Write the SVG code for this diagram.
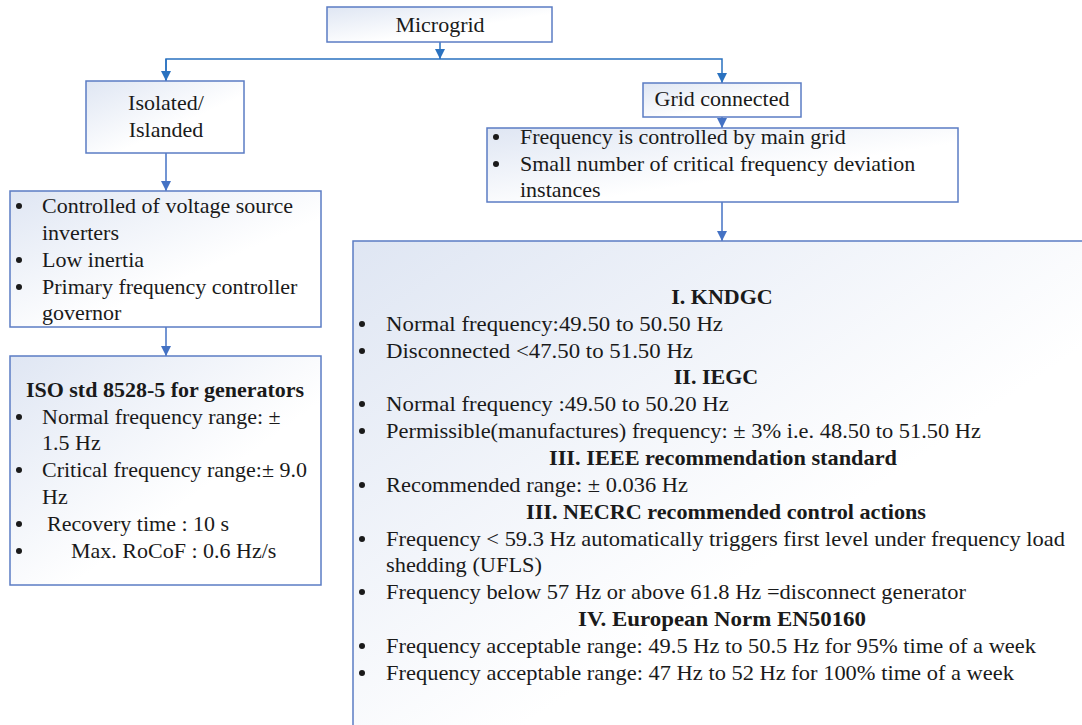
<svg xmlns="http://www.w3.org/2000/svg" width="1082" height="725" viewBox="0 0 1082 725">
<style>
.box{stroke:#5b7cc4;stroke-width:1.5;fill:url(#g)}
text{font-family:'Liberation Serif','DejaVu Serif',serif;font-size:22px;fill:#1a1a1a}
.c{text-anchor:middle}
.b{font-weight:bold}
.dot{fill:#1a1a1a}
.ln{stroke:#4472c4;stroke-width:1.5;fill:none}
.ln2{stroke:#2a72c0;stroke-width:1.5;fill:none}
</style>
<defs>
<linearGradient id="g" x1="0" y1="0" x2="1" y2="1">
<stop offset="0" stop-color="#dfe6f3"/>
<stop offset="0.6" stop-color="#ffffff"/>
<stop offset="1" stop-color="#ffffff"/>
</linearGradient>
<marker id="a" markerWidth="10" markerHeight="10" refX="10" refY="5" orient="auto" markerUnits="userSpaceOnUse">
<path d="M0,0 L10,5 L0,10 z" fill="#4472c4"/>
</marker>
<marker id="a2" markerWidth="10" markerHeight="10" refX="10" refY="5" orient="auto" markerUnits="userSpaceOnUse">
<path d="M0,0 L10,5 L0,10 z" fill="#2a72c0"/>
</marker>
</defs>
<rect width="1082" height="725" fill="#ffffff"/>

<g id="connectors">
<path class="ln2" d="M440,42 V59" marker-end="url(#a2)"/>
<path class="ln2" d="M166,81 V59 H722 V83" marker-end="url(#a2)"/>
<path class="ln2" d="M166,59 V81" marker-end="url(#a2)"/>
<path class="ln" d="M722,117 V128" marker-end="url(#a)"/>
<path class="ln" d="M166,153 V191" marker-end="url(#a)"/>
<path class="ln" d="M166,327 V356" marker-end="url(#a)"/>
<path class="ln" d="M722,202 V241" marker-end="url(#a)"/>
</g>

<g id="microgrid">
<rect class="box" x="327" y="7" width="225" height="35"/>
<text class="c" x="440" y="32" font-family="Liberation Serif, serif">Microgrid</text>
</g>

<g id="isolated">
<rect class="box" x="86" y="81" width="158" height="72"/>
<text class="c" x="166" y="110">Isolated/</text>
<text class="c" x="166" y="137">Islanded</text>
</g>

<g id="gridconnected">
<rect class="box" x="643" y="83" width="158" height="34"/>
<text class="c" x="722" y="106">Grid connected</text>
</g>

<g id="gridinfo">
<rect class="box" x="487" y="128" width="471" height="74"/>
<circle class="dot" cx="496" cy="137" r="3"/>
<text x="520" y="144">Frequency is controlled by main grid</text>
<circle class="dot" cx="496" cy="164" r="3"/>
<text x="520" y="171">Small number of critical frequency deviation</text>
<text x="520" y="197">instances</text>
</g>

<g id="isolatedinfo">
<rect class="box" x="10" y="191" width="311" height="136"/>
<circle class="dot" cx="19" cy="206" r="3"/>
<text x="42" y="213">Controlled of voltage source</text>
<text x="42" y="240">inverters</text>
<circle class="dot" cx="19" cy="260" r="3"/>
<text x="42" y="267">Low inertia</text>
<circle class="dot" cx="19" cy="287" r="3"/>
<text x="42" y="294">Primary frequency controller</text>
<text x="42" y="320">governor</text>
</g>

<g id="iso">
<rect class="box" x="10" y="356" width="311" height="229"/>
<text class="c b" x="165" y="397">ISO std 8528-5 for generators</text>
<circle class="dot" cx="19" cy="417" r="3"/>
<text x="42" y="424">Normal frequency range: ±</text>
<text x="42" y="450">1.5 Hz</text>
<circle class="dot" cx="19" cy="470" r="3"/>
<text x="42" y="477">Critical frequency range:± 9.0</text>
<text x="42" y="504">Hz</text>
<circle class="dot" cx="19" cy="524" r="3"/>
<text x="47" y="531">Recovery time : 10 s</text>
<circle class="dot" cx="19" cy="551" r="3"/>
<text x="71" y="558">Max. RoCoF : 0.6 Hz/s</text>
</g>

<g id="standards">
<rect class="box" x="353" y="241" width="740" height="500"/>
<text class="c b" x="722" y="304">I. KNDGC</text>
<circle class="dot" cx="362" cy="324" r="3"/>
<text x="386" y="331" textLength="337" lengthAdjust="spacingAndGlyphs">Normal frequency:49.50  to 50.50 Hz</text>
<circle class="dot" cx="362" cy="351" r="3"/>
<text x="386" y="358" textLength="307" lengthAdjust="spacingAndGlyphs">Disconnected  &lt;47.50 to 51.50 Hz</text>
<text class="c b" x="716" y="384">II. IEGC</text>
<circle class="dot" cx="362" cy="404" r="3"/>
<text x="386" y="411" textLength="343" lengthAdjust="spacingAndGlyphs">Normal frequency :49.50  to 50.20 Hz</text>
<circle class="dot" cx="362" cy="431" r="3"/>
<text x="386" y="438" textLength="595" lengthAdjust="spacingAndGlyphs">Permissible(manufactures) frequency: ± 3% i.e. 48.50 to 51.50 Hz</text>
<text class="c b" x="723" y="465" textLength="348" lengthAdjust="spacingAndGlyphs">III. IEEE recommendation standard</text>
<circle class="dot" cx="362" cy="485" r="3"/>
<text x="386" y="492" textLength="302" lengthAdjust="spacingAndGlyphs">Recommended range: ± 0.036 Hz</text>
<text class="c b" x="726" y="519" textLength="400" lengthAdjust="spacingAndGlyphs">III. NECRC recommended control actions</text>
<circle class="dot" cx="362" cy="539" r="3"/>
<text x="386" y="546" textLength="679" lengthAdjust="spacingAndGlyphs">Frequency &lt; 59.3 Hz automatically triggers first level under frequency load</text>
<text x="386" y="572" textLength="156" lengthAdjust="spacingAndGlyphs">shedding (UFLS)</text>
<circle class="dot" cx="362" cy="592" r="3"/>
<text x="386" y="599" textLength="580" lengthAdjust="spacingAndGlyphs">Frequency below 57 Hz or above 61.8 Hz =disconnect generator</text>
<text class="c b" x="722" y="626" textLength="288" lengthAdjust="spacingAndGlyphs">IV. European Norm EN50160</text>
<circle class="dot" cx="362" cy="646" r="3"/>
<text x="386" y="653" textLength="650" lengthAdjust="spacingAndGlyphs">Frequency acceptable range: 49.5 Hz to 50.5 Hz for 95% time of a week</text>
<circle class="dot" cx="362" cy="673" r="3"/>
<text x="386" y="680" textLength="628" lengthAdjust="spacingAndGlyphs">Frequency acceptable range: 47 Hz to 52 Hz for 100% time of a week</text>
</g>
</svg>
